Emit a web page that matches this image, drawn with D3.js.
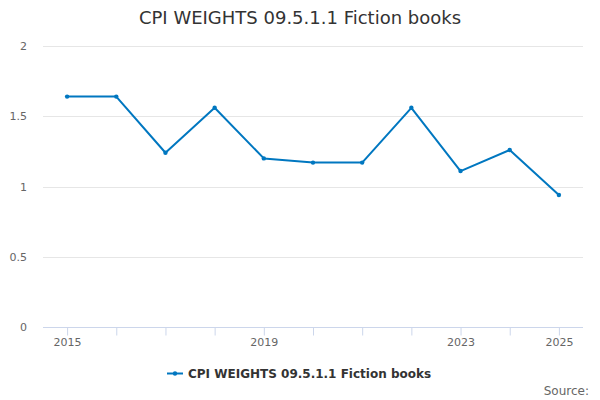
<!DOCTYPE html>
<html><head><meta charset="utf-8">
<script src="https://cdn.jsdelivr.net/npm/d3@7"></script>
<style>body{margin:0;background:#fff}svg{display:block;font-family:"DejaVu Sans",sans-serif}</style>
</head><body>
<svg id="c" width="600" height="400"></svg>
<script>
const years = [2015,2016,2017,2018,2019,2020,2021,2022,2023,2024,2025];
const values = [1.64,1.64,1.24,1.56,1.20,1.17,1.17,1.56,1.11,1.26,0.94];
const yTicks = [0,0.5,1,1.5,2];
const xLabels = [2015,2019,2023,2025];
const title = "CPI WEIGHTS 09.5.1.1 Fiction books";
const seriesName = "CPI WEIGHTS 09.5.1.1 Fiction books";

const svg = d3.select("#c");
const L=43,R=583,T=46,B=327;
const x = d3.scaleLinear().domain([2014.51,2025.49]).range([L,R]);
const y = d3.scaleLinear().domain([0,2]).range([B,T]);
const color="#0077c0";

svg.append("text").attr("x",300).attr("y",24).attr("text-anchor","middle")
  .attr("font-size",18).attr("fill","#333").text(title);

const grid = svg.append("g");
grid.selectAll("line").data(yTicks.filter(d=>d>0)).join("line")
  .attr("x1",L).attr("x2",R).attr("y1",d=>Math.round(y(d))+0.5).attr("y2",d=>Math.round(y(d))+0.5)
  .attr("stroke","#e6e6e6");
svg.append("g").selectAll("text").data(yTicks).join("text")
  .attr("x",27).attr("y",d=>y(d)+4).attr("text-anchor","end")
  .attr("font-size",11).attr("fill","#666").text(d=>d);

const xa = d3.axisBottom(x).tickValues(years).tickSize(8)
  .tickFormat(d=>xLabels.includes(d)?d:"");
const gx = svg.append("g").attr("transform",`translate(0,${B+0.5})`).call(xa);
gx.select(".domain").attr("stroke","#ccd6eb").attr("d",`M${L},0H${R}`);
gx.selectAll(".tick line").attr("stroke","#ccd6eb");
gx.selectAll(".tick text").attr("font-size",11).attr("fill","#666").attr("font-family","DejaVu Sans").attr("dy","0.9em").attr("y",9);

const line = d3.line().x((d,i)=>x(years[i])).y(d=>y(d));
svg.append("path").datum(values).attr("d",line).attr("fill","none")
  .attr("stroke",color).attr("stroke-width",2).attr("stroke-linejoin","round");
svg.append("g").selectAll("circle").data(values).join("circle")
  .attr("cx",(d,i)=>x(years[i])).attr("cy",d=>y(d)).attr("r",2.2).attr("fill",color);

const lg = svg.append("g");
lg.append("line").attr("x1",167).attr("x2",183).attr("y1",373.5).attr("y2",373.5).attr("stroke",color).attr("stroke-width",2);
lg.append("circle").attr("cx",175).attr("cy",373.5).attr("r",2.2).attr("fill",color);
lg.append("text").attr("x",188).attr("y",378).attr("font-size",12).attr("font-weight","bold").attr("fill","#333").text(seriesName);

svg.append("text").attr("x",589).attr("y",395).attr("text-anchor","end").attr("font-size",12).attr("fill","#666").text("Source:");
</script>
</body></html>
